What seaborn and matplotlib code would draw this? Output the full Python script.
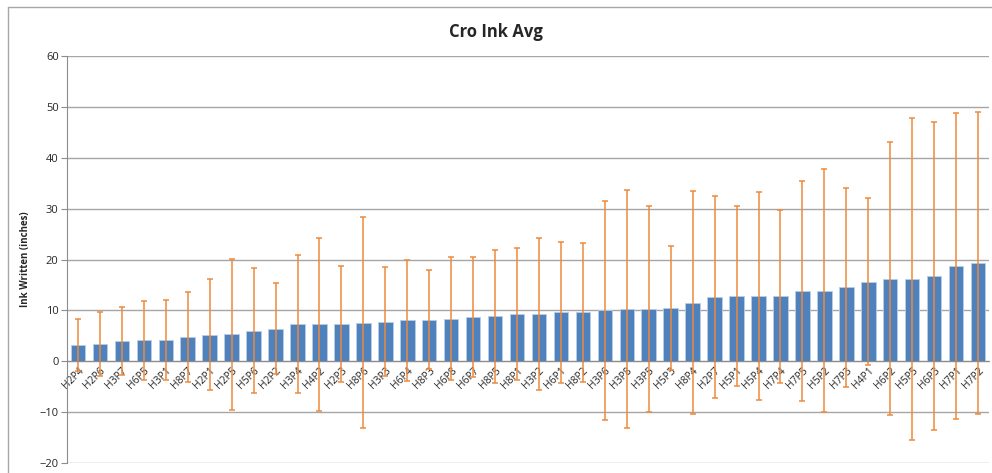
import matplotlib
matplotlib.use("Agg")
import matplotlib.pyplot as plt
import seaborn as sns
import pandas as pd
import numpy as np
from matplotlib.lines import Line2D

# chart data
bins = ['H2P4', 'H2P6', 'H3P7', 'H6P5', 'H3P1', 'H8P7', 'H2P1', 'H2P5', 'H5P6', 'H2P2',
        'H3P4', 'H4P2', 'H2P3', 'H8P6', 'H3P3', 'H6P4', 'H8P3', 'H6P8', 'H6P7', 'H8P5',
        'H8P1', 'H3P2', 'H6P1', 'H8P2', 'H3P6', 'H3P8', 'H3P5', 'H5P3', 'H8P4', 'H2P7',
        'H5P1', 'H5P4', 'H7P4', 'H7P5', 'H5P2', 'H7P3', 'H4P1', 'H6P2', 'H5P5', 'H6P3',
        'H7P1', 'H7P2']
ink_avg = [3.2, 3.4, 4.0, 4.1, 4.2, 4.8, 5.2, 5.3, 6.0, 6.4,
           7.3, 7.3, 7.4, 7.6, 7.8, 8.1, 8.2, 8.4, 8.7, 8.8,
           9.3, 9.3, 9.6, 9.6, 10.0, 10.3, 10.3, 10.4, 11.5, 12.6,
           12.8, 12.8, 12.8, 13.8, 13.9, 14.5, 15.6, 16.2, 16.2, 16.7,
           18.7, 19.3]
ink_std = [5.1, 6.3, 6.7, 7.7, 7.9, 8.9, 10.9, 14.8, 12.3, 9.0,
           13.5, 17.0, 11.4, 20.7, 10.7, 11.9, 9.7, 12.1, 11.7, 13.1,
           12.9, 14.9, 13.8, 13.6, 21.5, 23.4, 20.3, 12.2, 21.9, 19.8,
           17.7, 20.4, 17.0, 21.6, 23.8, 19.6, 16.4, 26.8, 31.7, 30.3,
           30.1, 29.6]
y_ticks = [-20, -10, 0, 10, 20, 30, 40, 50, 60]

df = pd.DataFrame({'bin': bins, 'avg': ink_avg, 'std': ink_std})

sns.set_style("white")
plt.rcParams['font.family'] = ['Open Sans', 'DejaVu Sans']

fig = plt.figure(figsize=(9.92, 4.73), dpi=100)
ax = fig.add_axes([67 / 992, 10 / 473, 922 / 992, 407 / 473])

sns.barplot(data=df, x='bin', y='avg', color='#4F81BD', saturation=1,
            width=0.66, edgecolor='#B9CDE5', linewidth=0.6, errorbar=None, ax=ax, zorder=2)
ax.errorbar(np.arange(len(df)), df['avg'], yerr=df['std'], fmt='none',
            ecolor='#EE8A3C', elinewidth=1.1, capsize=2.5, capthick=1.1, zorder=3)

ax.set_ylim(-20, 60)
ax.set_xlim(-0.5, len(df) - 0.5)
ax.set_yticks(y_ticks)
ax.yaxis.grid(True, color='#A6A6A6', linewidth=1.0, zorder=0)
ax.set_axisbelow(True)

# category axis crosses at zero like the original
for s in ['top', 'right']:
    ax.spines[s].set_visible(False)
ax.spines['bottom'].set_position(('data', 0))
ax.spines['bottom'].set_color('#8C8C8C')
ax.spines['left'].set_color('#8C8C8C')
ax.spines['bottom'].set_zorder(4)

ax.set_xticks(np.arange(len(df)))
ax.set_xticklabels(bins, rotation=45, ha='right', rotation_mode='anchor', fontsize=7.5)
ax.tick_params(axis='x', which='major', length=0, pad=3)
ax.set_xticks(np.arange(len(df) + 1) - 0.5, minor=True)
ax.tick_params(axis='x', which='minor', length=4, color='#8C8C8C', direction='out')
ax.tick_params(axis='y', length=4, color='#8C8C8C', labelsize=8, left=True, pad=2)
for lbl in ax.get_xticklabels():
    lbl.set_x(lbl.get_position()[0])
ax.set_xlabel('')
ax.set_ylabel('Ink Written (inches)', fontsize=7, fontweight='bold', labelpad=6)

fig.text(0.5, 1 - 32 / 473, 'Cro Ink Avg', ha='center', va='center',
         fontsize=12, fontweight='bold')

# chart area border
fig.add_artist(Line2D([8 / 992, 8 / 992], [0, 1 - 7 / 473], transform=fig.transFigure,
                      color='#A6A6A6', linewidth=1.0))
fig.add_artist(Line2D([8 / 992, 1], [1 - 7 / 473, 1 - 7 / 473], transform=fig.transFigure,
                      color='#A6A6A6', linewidth=1.0))

fig.savefig('out.png', dpi=100)
